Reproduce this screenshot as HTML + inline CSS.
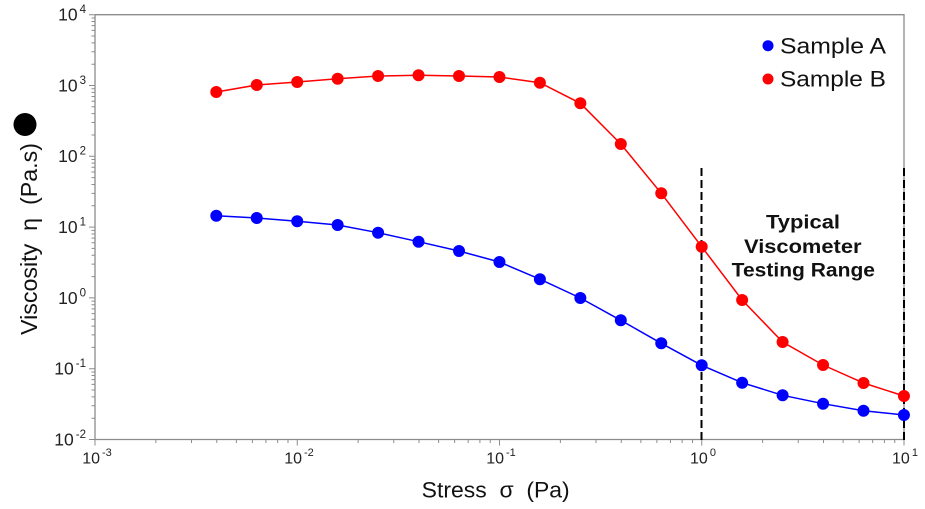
<!DOCTYPE html>
<html><head><meta charset="utf-8"><style>
html,body{margin:0;padding:0;background:#fff;}
svg{display:block;}
text{font-family:"Liberation Sans",Arial,sans-serif;}
</style></head><body>
<svg width="925" height="509" viewBox="0 0 925 509" xmlns="http://www.w3.org/2000/svg">
<rect width="925" height="509" fill="#fff"/>
<!-- frame -->
<path d="M95 14.7 H904 V439.5 M95 14.7 V439.5 H904" fill="none" stroke="#8c8c8c" stroke-width="1.3"/>
<!-- y ticks -->
<path stroke="#8c8c8c" stroke-width="1" fill="none" d="
M89 439.5H95 M89 368.7H95 M89 297.9H95 M89 227.1H95 M89 156.3H95 M89 85.5H95 M89 14.7H95
M91.5 418.19H95 M91.5 405.72H95 M91.5 396.87H95 M91.5 390.01H95 M91.5 384.41H95 M91.5 379.67H95 M91.5 375.56H95 M91.5 371.94H95
M91.5 347.39H95 M91.5 334.92H95 M91.5 326.07H95 M91.5 319.21H95 M91.5 313.61H95 M91.5 308.87H95 M91.5 304.76H95 M91.5 301.14H95
M91.5 276.59H95 M91.5 264.12H95 M91.5 255.27H95 M91.5 248.41H95 M91.5 242.81H95 M91.5 238.07H95 M91.5 233.96H95 M91.5 230.34H95
M91.5 205.79H95 M91.5 193.32H95 M91.5 184.47H95 M91.5 177.61H95 M91.5 172.01H95 M91.5 167.27H95 M91.5 163.16H95 M91.5 159.54H95
M91.5 134.99H95 M91.5 122.52H95 M91.5 113.67H95 M91.5 106.81H95 M91.5 101.21H95 M91.5 96.47H95 M91.5 92.36H95 M91.5 88.74H95
M91.5 64.19H95 M91.5 51.72H95 M91.5 42.87H95 M91.5 36.01H95 M91.5 30.41H95 M91.5 25.67H95 M91.5 21.56H95 M91.5 17.94H95
"/>
<!-- x ticks -->
<path stroke="#8c8c8c" stroke-width="1" fill="none" d="
M95 439.5V445.5 M297.25 439.5V445.5 M499.5 439.5V445.5 M701.75 439.5V445.5 M904 439.5V445.5
M155.88 439.5V443 M191.5 439.5V443 M216.77 439.5V443 M236.37 439.5V443 M252.38 439.5V443 M265.92 439.5V443 M277.65 439.5V443 M287.99 439.5V443
M358.13 439.5V443 M393.75 439.5V443 M419.02 439.5V443 M438.62 439.5V443 M454.63 439.5V443 M468.17 439.5V443 M479.9 439.5V443 M490.24 439.5V443
M560.38 439.5V443 M596 439.5V443 M621.27 439.5V443 M640.87 439.5V443 M656.88 439.5V443 M670.42 439.5V443 M682.15 439.5V443 M692.49 439.5V443
M762.63 439.5V443 M798.25 439.5V443 M823.52 439.5V443 M843.12 439.5V443 M859.13 439.5V443 M872.67 439.5V443 M884.4 439.5V443 M894.74 439.5V443
"/>
<!-- y tick labels -->
<g font-size="17.5" fill="#222" text-anchor="end">
<text x="86" y="20.6">10<tspan font-size="11.5" dx="2" dy="-7.5">4</tspan></text>
<text x="86" y="91.4">10<tspan font-size="11.5" dx="2" dy="-7.5">3</tspan></text>
<text x="86" y="162.2">10<tspan font-size="11.5" dx="2" dy="-7.5">2</tspan></text>
<text x="86" y="233">10<tspan font-size="11.5" dx="2" dy="-7.5">1</tspan></text>
<text x="86" y="303.8">10<tspan font-size="11.5" dx="2" dy="-7.5">0</tspan></text>
<text x="86" y="374.6">10<tspan font-size="11.5" dx="2" dy="-7.5">-1</tspan></text>
<text x="86" y="445.4">10<tspan font-size="11.5" dx="2" dy="-7.5">-2</tspan></text>
</g>
<!-- x tick labels -->
<g font-size="16" fill="#222" text-anchor="middle">
<text x="97" y="463.5">10<tspan font-size="11" dx="2" dy="-7.5">-3</tspan></text>
<text x="299" y="463.5">10<tspan font-size="11" dx="2" dy="-7.5">-2</tspan></text>
<text x="501" y="463.5">10<tspan font-size="11" dx="2" dy="-7.5">-1</tspan></text>
<text x="703" y="463.5">10<tspan font-size="11" dx="2" dy="-7.5">0</tspan></text>
<text x="905" y="463.5">10<tspan font-size="11" dx="2" dy="-7.5">1</tspan></text>
</g>
<!-- axis titles -->
<text x="421.7" y="497.5" font-size="22" fill="#111" textLength="148" lengthAdjust="spacingAndGlyphs" style="white-space:pre">Stress  σ  (Pa)</text>
<text transform="translate(37 335) rotate(-90)" x="0" y="0" font-size="23" fill="#111" textLength="192" lengthAdjust="spacingAndGlyphs" style="white-space:pre">Viscosity  η  (Pa.s)</text>
<circle cx="25" cy="124.5" r="11.5" fill="#000"/>
<!-- dashed lines -->
<path d="M701.5 168V440 M904 168V440" stroke="#000" stroke-width="2" stroke-dasharray="8,4" fill="none"/>
<!-- Sample A -->
<polyline fill="none" stroke="#0000ff" stroke-width="1.5" points="216.3,215.7 256.75,218 297.2,221.3 337.65,225 378.1,232.7 418.55,241.7 459,251 499.45,262 539.9,279.2 580.35,298 620.8,320.3 661.25,343.3 701.7,365.3 742.15,382.7 782.6,395.3 823.05,403.7 863.5,410.7 903.95,415"/>
<g fill="#0000ff">
<circle cx="216.3" cy="215.7" r="6"/><circle cx="256.75" cy="218" r="6"/><circle cx="297.2" cy="221.3" r="6"/><circle cx="337.65" cy="225" r="6"/><circle cx="378.1" cy="232.7" r="6"/><circle cx="418.55" cy="241.7" r="6"/><circle cx="459" cy="251" r="6"/><circle cx="499.45" cy="262" r="6"/><circle cx="539.9" cy="279.2" r="6"/><circle cx="580.35" cy="298" r="6"/><circle cx="620.8" cy="320.3" r="6"/><circle cx="661.25" cy="343.3" r="6"/><circle cx="701.7" cy="365.3" r="6"/><circle cx="742.15" cy="382.7" r="6"/><circle cx="782.6" cy="395.3" r="6"/><circle cx="823.05" cy="403.7" r="6"/><circle cx="863.5" cy="410.7" r="6"/><circle cx="903.95" cy="415" r="6"/>
</g>
<!-- Sample B -->
<polyline fill="none" stroke="#ff0000" stroke-width="1.5" points="216.3,92 256.75,85 297.2,82 337.65,78.7 378.1,76 418.55,75.3 459,76 499.45,77 539.9,82.7 580.35,103.3 620.8,144 661.25,193.3 701.7,246.7 742.15,300 782.6,342 823.05,365 863.5,383 903.95,396"/>
<g fill="#ff0000">
<circle cx="216.3" cy="92" r="6"/><circle cx="256.75" cy="85" r="6"/><circle cx="297.2" cy="82" r="6"/><circle cx="337.65" cy="78.7" r="6"/><circle cx="378.1" cy="76" r="6"/><circle cx="418.55" cy="75.3" r="6"/><circle cx="459" cy="76" r="6"/><circle cx="499.45" cy="77" r="6"/><circle cx="539.9" cy="82.7" r="6"/><circle cx="580.35" cy="103.3" r="6"/><circle cx="620.8" cy="144" r="6"/><circle cx="661.25" cy="193.3" r="6"/><circle cx="701.7" cy="246.7" r="6"/><circle cx="742.15" cy="300" r="6"/><circle cx="782.6" cy="342" r="6"/><circle cx="823.05" cy="365" r="6"/><circle cx="863.5" cy="383" r="6"/><circle cx="903.95" cy="396" r="6"/>
</g>
<!-- annotation -->
<g font-size="19" font-weight="bold" fill="#111" text-anchor="start">
<text x="766" y="228.5" textLength="74" lengthAdjust="spacingAndGlyphs">Typical</text>
<text x="744" y="253" textLength="117.5" lengthAdjust="spacingAndGlyphs">Viscometer</text>
<text x="731.7" y="276.5" textLength="143.3" lengthAdjust="spacingAndGlyphs">Testing Range</text>
</g>
<!-- legend -->
<circle cx="768" cy="45.7" r="5.5" fill="#0000ff"/>
<circle cx="768" cy="79" r="5.5" fill="#ff0000"/>
<text x="780" y="53.3" font-size="22" fill="#111" textLength="106" lengthAdjust="spacingAndGlyphs">Sample A</text>
<text x="780" y="86.5" font-size="22" fill="#111" textLength="106" lengthAdjust="spacingAndGlyphs">Sample B</text>
</svg>
</body></html>
